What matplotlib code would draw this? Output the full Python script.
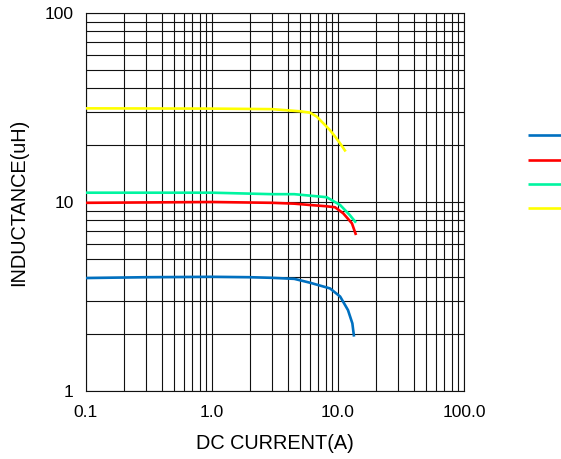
import matplotlib
matplotlib.use("Agg")
import matplotlib.pyplot as plt
from matplotlib.ticker import LogLocator, FixedLocator, FixedFormatter, NullFormatter

plt.rcParams['font.family'] = ['Liberation Sans', 'DejaVu Sans']

# Data
blue_x = [0.1, 0.3, 1.0, 2.0, 3.0, 4.5, 6.0, 8.64, 10.4, 12.0, 13.0, 13.4]
blue_y = [3.96, 4.0, 4.02, 4.0, 3.97, 3.92, 3.74, 3.49, 3.16, 2.68, 2.28, 1.94]

red_x = [0.1, 1.0, 3.0, 4.5, 6.0, 8.0, 9.47, 11.0, 12.9, 13.9]
red_y = [9.9, 10.0, 9.9, 9.8, 9.64, 9.5, 9.38, 8.71, 7.71, 6.69]

cyan_x = [0.1, 1.0, 3.0, 4.5, 8.13, 10.4, 12.4, 13.9]
cyan_y = [11.2, 11.2, 11.0, 11.0, 10.6, 9.64, 8.53, 7.77]

yellow_x = [0.1, 1.0, 3.0, 4.99, 6.0, 6.78, 7.64, 8.64, 9.47, 10.4, 11.5]
yellow_y = [31.3, 31.2, 31.0, 30.2, 29.7, 28.3, 26.1, 24.0, 22.2, 20.4, 18.5]

series = [
    (blue_x, blue_y, '#0070C0'),
    (red_x, red_y, '#FF0000'),
    (cyan_x, cyan_y, '#00F5A0'),
    (yellow_x, yellow_y, '#FFFF00'),
]
series_labels = ['', '', '', '']

x_ticks = [0.1, 1.0, 10.0, 100.0]
x_tick_labels = ['0.1', '1.0', '10.0', '100.0']
y_ticks = [1, 10, 100]
y_tick_labels = ['1', '10', '100']

W, H = 561, 459
fig = plt.figure(figsize=(W / 100, H / 100), dpi=100)
ax = fig.add_axes([86 / W, 1 - 391 / H, (464 - 86) / W, (391 - 13) / H])

handles = []
for (xs, ys, c) in series:
    h, = ax.plot(xs, ys, color=c, lw=1.9, zorder=3, solid_capstyle='butt')
    handles.append(h)

ax.set_xscale('log')
ax.set_yscale('log')
ax.set_xlim(0.1, 100)
ax.set_ylim(1, 100)

ax.xaxis.set_major_locator(FixedLocator(x_ticks))
ax.xaxis.set_major_formatter(FixedFormatter(x_tick_labels))
ax.yaxis.set_major_locator(FixedLocator(y_ticks))
ax.yaxis.set_major_formatter(FixedFormatter(y_tick_labels))
ax.xaxis.set_minor_locator(LogLocator(base=10, subs=range(2, 10), numticks=20))
ax.yaxis.set_minor_locator(LogLocator(base=10, subs=range(2, 10), numticks=20))
ax.xaxis.set_minor_formatter(NullFormatter())
ax.yaxis.set_minor_formatter(NullFormatter())

ax.grid(which='both', color='#111111', lw=0.8)
ax.set_axisbelow(True)
for s in ax.spines.values():
    s.set_color('#111111')
    s.set_linewidth(0.8)

ax.tick_params(which='both', length=0)
ax.tick_params(axis='x', labelsize=12.5, pad=10)
ax.tick_params(axis='y', labelsize=12.5, pad=9)

ax.set_xlabel('DC CURRENT(A)', fontsize=14.3, labelpad=10)
ax.set_ylabel('INDUCTANCE(uH)', fontsize=14.3, labelpad=12)

fig.legend(handles, series_labels, loc='upper left',
           bbox_to_anchor=(520 / W, 1 - 121 / H), frameon=False,
           fontsize=12, handlelength=2.1, handleheight=0.7,
           labelspacing=0.56, handletextpad=0.2, borderpad=0.0)

fig.savefig('out.png', dpi=100)
